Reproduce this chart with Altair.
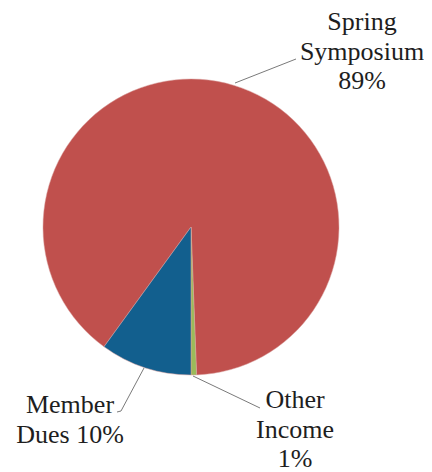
import math
import altair as alt
import pandas as pd

# ---- data ----
categories = ["Spring Symposium", "Other Income", "Member Dues"]
values = [89.4, 0.6, 10.0]
colors = ["#C0504D", "#9BBB59", "#125F8E"]
label_lines = [
    ["Spring", "Symposium", "{}%"],
    ["Other", "Income", "{}%"],
    ["Member", "Dues {}%"],
]

df = pd.DataFrame({"category": categories, "value": values, "order": list(range(len(categories)))})

W, H = 416, 464
CX, CY, R = 183, 219, 148
start = math.radians(216)
FONT = "Liberation Serif"

pie = alt.Chart(df).mark_arc(radius=R, stroke="#d9a19f", strokeWidth=0.5).encode(
    theta=alt.Theta("value:Q", stack=True, scale=alt.Scale(range=[start, start + 2 * math.pi])),
    order=alt.Order("order:Q"),
    color=alt.Color("category:N", scale=alt.Scale(domain=categories, range=colors), legend=None),
    x=alt.value(CX),
    y=alt.value(CY),
)

# label anchor (centre x, first baseline y) in chart pixels
anchors = [(354, 22), (287, 400), (62, 405)]
LH = 29.5
layers = [pie]

# leader lines
segs = [
    (227, 75, 288, 51),
    (185, 368, 252, 400),
    (136, 360, 113, 403),
    (113, 403, 109, 404),
]
for j, (x1, y1, x2, y2) in enumerate(segs):
    layers.append(alt.Chart(pd.DataFrame({"seg": [j]})).mark_rule(color="#7a7a7a", strokeWidth=1).encode(
        x=alt.value(x1), y=alt.value(y1), x2=alt.value(x2), y2=alt.value(y2)))

for k, ((ax, ay), lines, v) in enumerate(zip(anchors, label_lines, values)):
    for i, ln in enumerate(lines):
        t = ln.format(round(v))
        layers.append(alt.Chart(pd.DataFrame({"label": [t]})).mark_text(
            font=FONT, fontSize=26, color="#1e1e1e",
            align="center", baseline="alphabetic",
        ).encode(x=alt.value(ax), y=alt.value(ay + i * LH), text="label:N"))

chart = alt.layer(*layers).properties(
    width=W, height=H, padding=0, autosize=alt.AutoSizeParams(type="none")
).configure_view(stroke=None)

chart.save("out.html", embed_options={"renderer": "svg", "actions": False})
